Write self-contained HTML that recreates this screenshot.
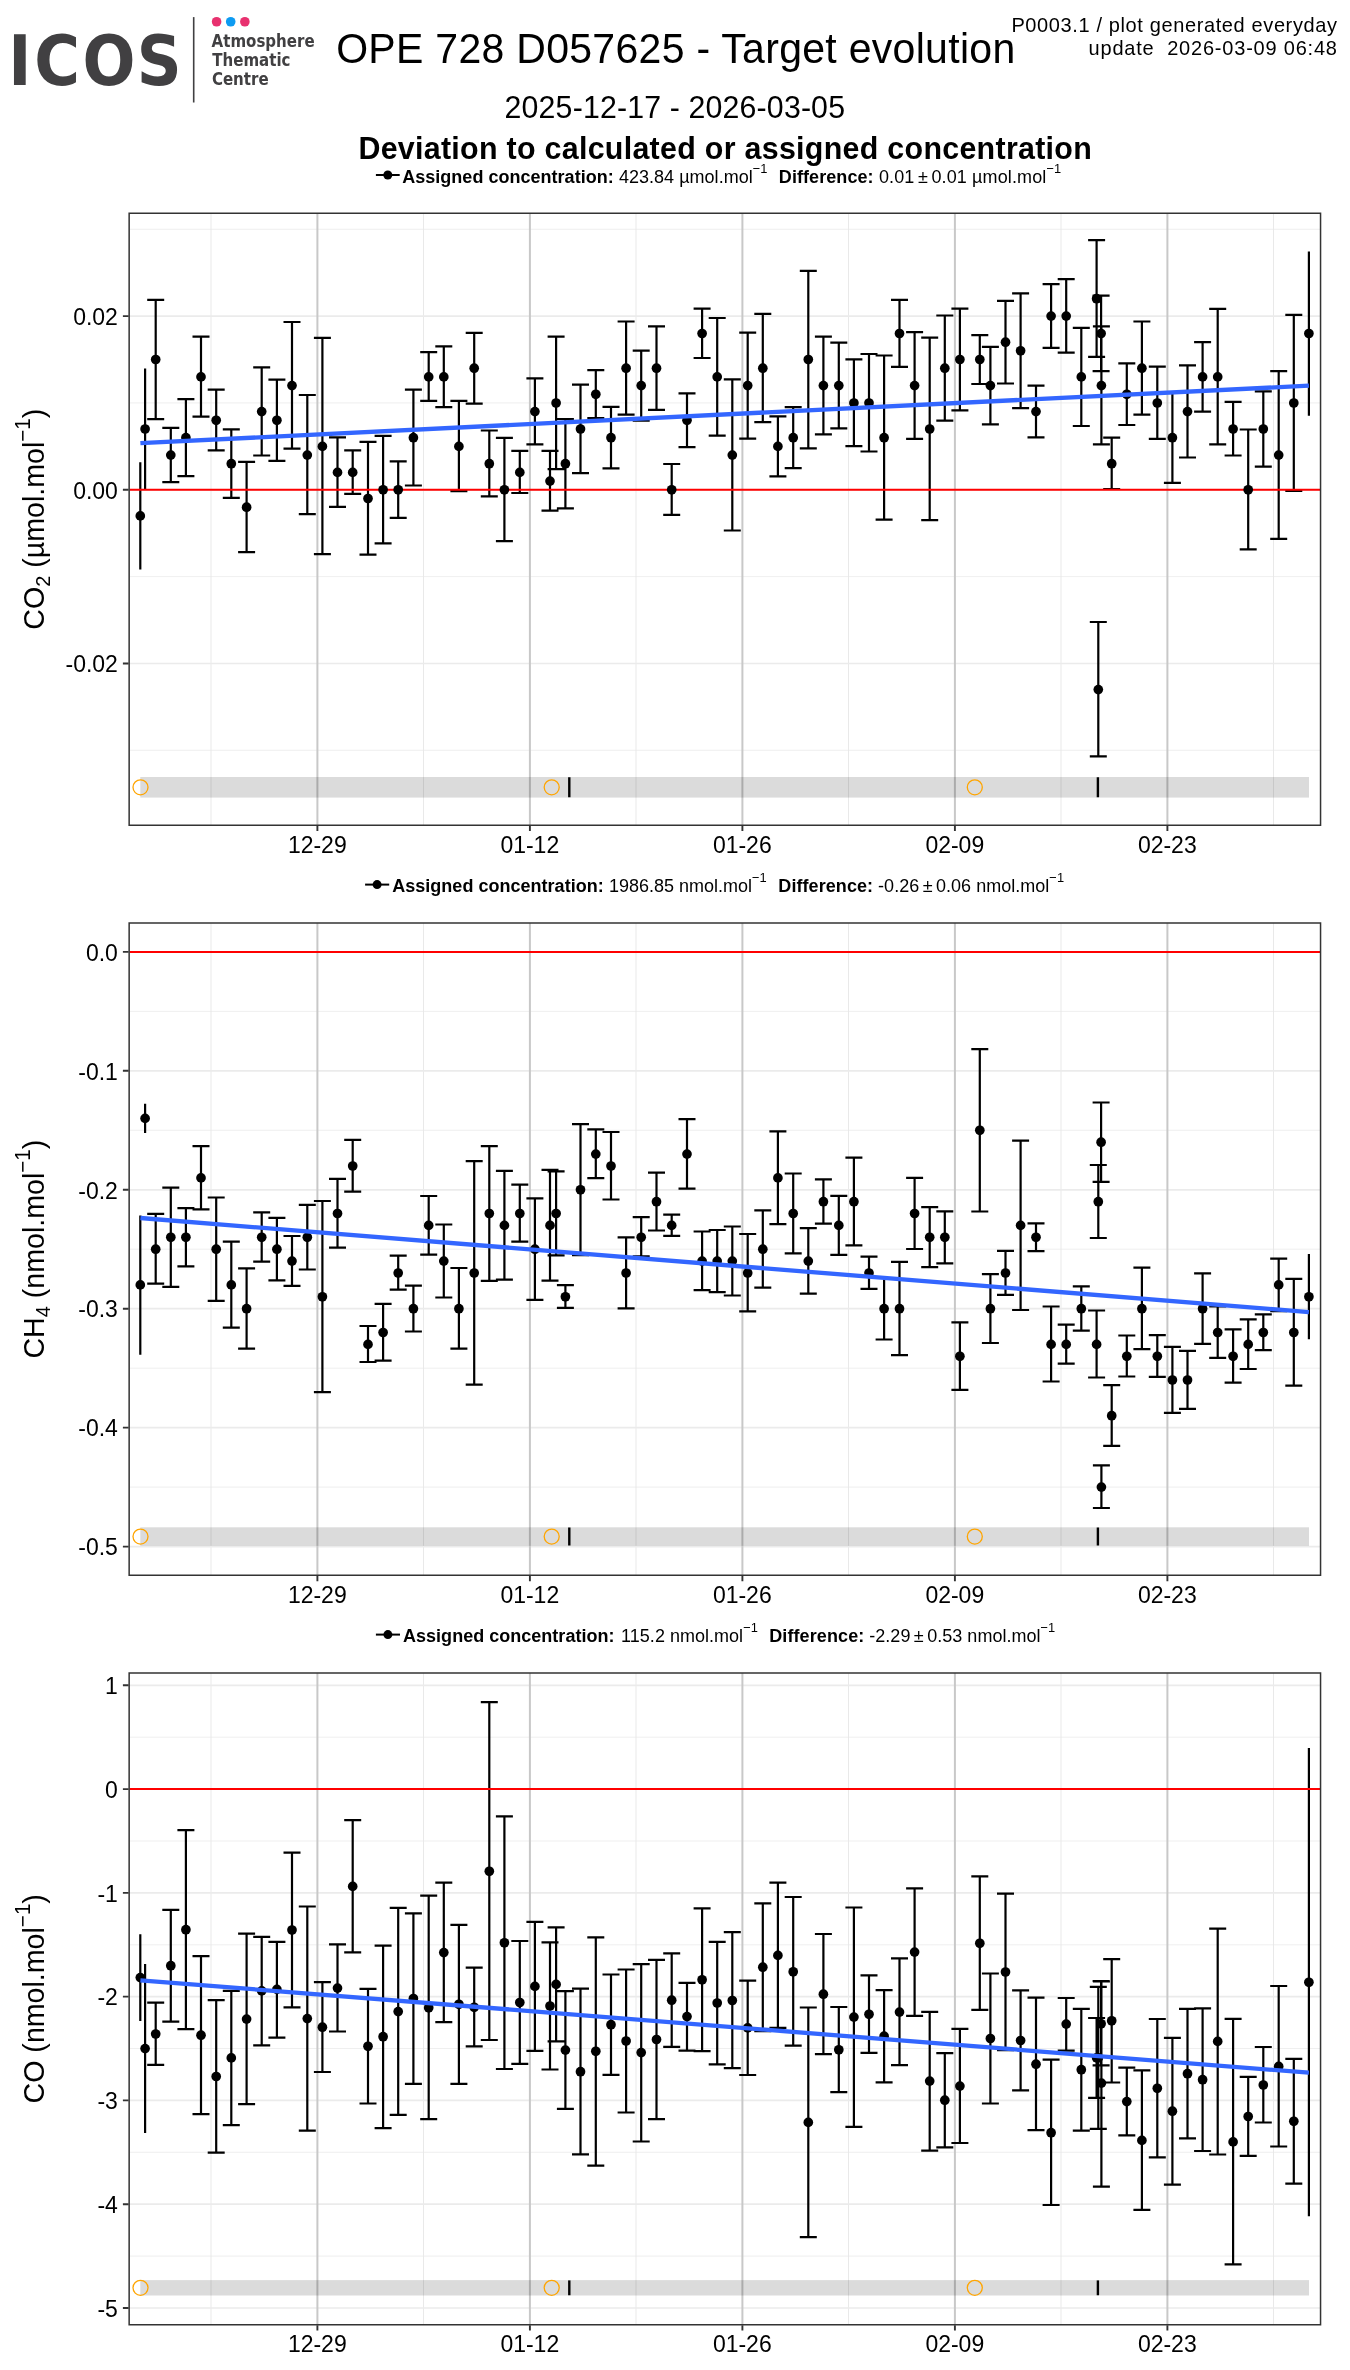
<!DOCTYPE html>
<html><head><meta charset="utf-8"><title>OPE 728 D057625 - Target evolution</title>
<style>html,body{margin:0;padding:0;background:#fff;overflow:hidden}svg{display:block;will-change:transform}</style></head>
<body>
<svg width="1350" height="2370" viewBox="0 0 1350 2370" font-family='"Liberation Sans", sans-serif'>
<rect width="1350" height="2370" fill="#fff"/>
<g id="logo" fill="#414042" font-weight="bold">
<text transform="translate(0 85.1) scale(0.89 1)" font-family='"DejaVu Sans", "Liberation Sans", sans-serif' font-size="70" x="9.3 38.6 92.6 153.8">ICOS</text>
<rect x="192.9" y="17.1" width="1.6" height="85.4"/>
<g font-family='"DejaVu Sans", "Liberation Sans", sans-serif' font-size="16.9">
<text transform="translate(211.6 47.1) scale(0.89 1)">Atmosphere</text>
<text transform="translate(212.3 65.9) scale(0.89 1)">Thematic</text>
<text transform="translate(211.9 84.9) scale(0.89 1)">Centre</text>
</g></g>
<circle cx="216.6" cy="21.75" r="4.8" fill="#e8316f"/><circle cx="230.7" cy="21.75" r="4.8" fill="#0d9bf2"/><circle cx="244.85" cy="21.75" r="4.8" fill="#e8316f"/>
<text transform="translate(336.20 62.90) scale(1 1.05)" font-size="41" textLength="679.0" lengthAdjust="spacing" >OPE 728 D057625 - Target evolution</text>
<text transform="translate(504.60 117.80) scale(1 1.05)" font-size="30.3" textLength="340.4" lengthAdjust="spacing" >2025-12-17 - 2026-03-05</text>
<text transform="translate(358.40 159.10) scale(1 1.05)" font-size="30.4" font-weight="bold" textLength="733.4" lengthAdjust="spacing" >Deviation to calculated or assigned concentration</text>
<text transform="translate(1011.40 31.60) scale(1 1.05)" font-size="20" textLength="325.6" lengthAdjust="spacing" >P0003.1 / plot generated everyday</text>
<text transform="translate(1088.60 55.20) scale(1 1.05)" font-size="20" textLength="248.4" lengthAdjust="spacing" xml:space="preserve">update  2026-03-09 06:48</text>
<line x1="375.9" y1="175.0" x2="399.7" y2="175.0" stroke="#000" stroke-width="2"/>
<circle cx="387.8" cy="175.0" r="4.5" fill="#000"/>
<text transform="translate(402.20 182.70) scale(1 1.05)" font-size="18" font-weight="bold" textLength="211.5" lengthAdjust="spacing" >Assigned concentration:</text>
<text transform="translate(618.90 182.70) scale(1 1.05)" font-size="18" textLength="148.6" lengthAdjust="spacing" >423.84 µmol.mol<tspan font-size="12.9" dy="-9.6">−1</tspan></text>
<text transform="translate(778.80 182.70) scale(1 1.05)" font-size="18" font-weight="bold" textLength="94.8" lengthAdjust="spacing" >Difference:</text>
<text transform="translate(878.90 182.70) scale(1 1.05)" font-size="18" textLength="182.4" lengthAdjust="spacing" >0.01<tspan dx="-1.6"> ±</tspan><tspan dx="-1.6"> 0.01</tspan> µmol.mol<tspan font-size="12.9" dy="-9.6">−1</tspan></text>
<line x1="365.1" y1="884.6" x2="389.2" y2="884.6" stroke="#000" stroke-width="2"/>
<circle cx="377.1" cy="884.6" r="4.5" fill="#000"/>
<text transform="translate(392.20 892.30) scale(1 1.05)" font-size="18" font-weight="bold" textLength="211.5" lengthAdjust="spacing" >Assigned concentration:</text>
<text transform="translate(608.90 892.30) scale(1 1.05)" font-size="18" textLength="157.8" lengthAdjust="spacing" >1986.85 nmol.mol<tspan font-size="12.9" dy="-9.6">−1</tspan></text>
<text transform="translate(778.30 892.30) scale(1 1.05)" font-size="18" font-weight="bold" textLength="94.8" lengthAdjust="spacing" >Difference:</text>
<text transform="translate(878.10 892.30) scale(1 1.05)" font-size="18" textLength="186.0" lengthAdjust="spacing" >-0.26<tspan dx="-1.6"> ±</tspan><tspan dx="-1.6"> 0.06</tspan> nmol.mol<tspan font-size="12.9" dy="-9.6">−1</tspan></text>
<line x1="375.9" y1="1634.6" x2="400.0" y2="1634.6" stroke="#000" stroke-width="2"/>
<circle cx="387.9" cy="1634.6" r="4.5" fill="#000"/>
<text transform="translate(403.00 1642.30) scale(1 1.05)" font-size="18" font-weight="bold" textLength="211.5" lengthAdjust="spacing" >Assigned concentration:</text>
<text transform="translate(621.10 1642.30) scale(1 1.05)" font-size="18" textLength="136.8" lengthAdjust="spacing" >115.2 nmol.mol<tspan font-size="12.9" dy="-9.6">−1</tspan></text>
<text transform="translate(769.20 1642.30) scale(1 1.05)" font-size="18" font-weight="bold" textLength="95.1" lengthAdjust="spacing" >Difference:</text>
<text transform="translate(869.30 1642.30) scale(1 1.05)" font-size="18" textLength="186.0" lengthAdjust="spacing" >-2.29<tspan dx="-1.6"> ±</tspan><tspan dx="-1.6"> 0.53</tspan> nmol.mol<tspan font-size="12.9" dy="-9.6">−1</tspan></text>
<g id="panel1">
<clipPath id="cp1"><rect x="129.5" y="213.3" width="1191.0" height="611.8499999999999"/></clipPath>
<g clip-path="url(#cp1)">
<line x1="129.5" x2="1320.5" y1="229.3" y2="229.3" stroke="#ebebeb" stroke-width="0.8"/>
<line x1="129.5" x2="1320.5" y1="402.9" y2="402.9" stroke="#ebebeb" stroke-width="0.8"/>
<line x1="129.5" x2="1320.5" y1="576.6" y2="576.6" stroke="#ebebeb" stroke-width="0.8"/>
<line x1="129.5" x2="1320.5" y1="750.3" y2="750.3" stroke="#ebebeb" stroke-width="0.8"/>
<line y1="213.3" y2="825.15" x1="211.0" x2="211.0" stroke="#e6e6e6" stroke-width="0.9"/>
<line y1="213.3" y2="825.15" x1="423.5" x2="423.5" stroke="#e6e6e6" stroke-width="0.9"/>
<line y1="213.3" y2="825.15" x1="636.0" x2="636.0" stroke="#e6e6e6" stroke-width="0.9"/>
<line y1="213.3" y2="825.15" x1="848.5" x2="848.5" stroke="#e6e6e6" stroke-width="0.9"/>
<line y1="213.3" y2="825.15" x1="1061.0" x2="1061.0" stroke="#e6e6e6" stroke-width="0.9"/>
<line y1="213.3" y2="825.15" x1="1273.5" x2="1273.5" stroke="#e6e6e6" stroke-width="0.9"/>
<line x1="129.5" x2="1320.5" y1="316.1" y2="316.1" stroke="#ebebeb" stroke-width="1.7"/>
<line x1="129.5" x2="1320.5" y1="489.8" y2="489.8" stroke="#ebebeb" stroke-width="1.7"/>
<line x1="129.5" x2="1320.5" y1="663.5" y2="663.5" stroke="#ebebeb" stroke-width="1.7"/>
<line y1="213.3" y2="825.15" x1="317.4" x2="317.4" stroke="#c8c8c8" stroke-width="2"/>
<line y1="213.3" y2="825.15" x1="529.9" x2="529.9" stroke="#c8c8c8" stroke-width="2"/>
<line y1="213.3" y2="825.15" x1="742.4" x2="742.4" stroke="#c8c8c8" stroke-width="2"/>
<line y1="213.3" y2="825.15" x1="954.9" x2="954.9" stroke="#c8c8c8" stroke-width="2"/>
<line y1="213.3" y2="825.15" x1="1167.4" x2="1167.4" stroke="#c8c8c8" stroke-width="2"/>
<rect x="140.3" y="777.0" width="1168.7" height="20.6" fill="#000" fill-opacity="0.14"/>
<line x1="569.3" x2="569.3" y1="777.3" y2="797.3" stroke="#000" stroke-width="2.4"/>
<line x1="1097.9" x2="1097.9" y1="777.3" y2="797.3" stroke="#000" stroke-width="2.4"/>
<circle cx="140.5" cy="787.3" r="7.5" fill="none" stroke="#ffa500" stroke-width="1.3"/>
<circle cx="551.7" cy="787.3" r="7.5" fill="none" stroke="#ffa500" stroke-width="1.3"/>
<circle cx="974.8" cy="787.3" r="7.5" fill="none" stroke="#ffa500" stroke-width="1.3"/>
<path d="M140.3 462.3V569.6M145.1 368.6V489.5M155.7 299.8V419.2M147.2 299.8h17M147.2 419.2h17M170.8 427.8V482.2M162.3 427.8h17M162.3 482.2h17M185.9 399.1V476.1M177.4 399.1h17M177.4 476.1h17M201.0 336.6V416.7M192.5 336.6h17M192.5 416.7h17M216.2 389.7V450.4M207.7 389.7h17M207.7 450.4h17M231.3 429.3V497.8M222.8 429.3h17M222.8 497.8h17M246.6 461.8V552.2M238.1 461.8h17M238.1 552.2h17M261.7 367.3V455.5M253.2 367.3h17M253.2 455.5h17M276.9 379.7V460.8M268.4 379.7h17M268.4 460.8h17M292.0 322.0V448.7M283.5 322.0h17M283.5 448.7h17M307.3 395.0V514.2M298.8 395.0h17M298.8 514.2h17M322.4 337.9V554.2M313.9 337.9h17M313.9 554.2h17M337.5 437.3V506.9M329.0 437.3h17M329.0 506.9h17M352.7 450.4V493.8M344.2 450.4h17M344.2 493.8h17M368.0 441.9V554.7M359.5 441.9h17M359.5 554.7h17M383.1 435.8V543.4M374.6 435.8h17M374.6 543.4h17M398.2 461.3V517.9M389.7 461.3h17M389.7 517.9h17M413.4 389.7V485.5M404.9 389.7h17M404.9 485.5h17M428.7 352.2V400.8M420.2 352.2h17M420.2 400.8h17M443.8 346.4V407.1M435.3 346.4h17M435.3 407.1h17M458.9 400.8V491.2M450.4 400.8h17M450.4 491.2h17M474.2 332.8V403.6M465.7 332.8h17M465.7 403.6h17M489.3 430.5V496.3M480.8 430.5h17M480.8 496.3h17M504.4 437.9V541.1M495.9 437.9h17M495.9 541.1h17M519.8 450.9V493.0M511.3 450.9h17M511.3 493.0h17M534.9 378.4V444.4M526.4 378.4h17M526.4 444.4h17M550.0 450.9V510.6M541.5 450.9h17M541.5 510.6h17M556.1 336.6V469.1M547.6 336.6h17M547.6 469.1h17M565.4 419.0V508.4M556.9 419.0h17M556.9 508.4h17M580.5 384.7V473.1M572.0 384.7h17M572.0 473.1h17M595.8 370.1V418.2M587.3 370.1h17M587.3 418.2h17M611.0 406.9V468.3M602.5 406.9h17M602.5 468.3h17M626.1 321.5V414.7M617.6 321.5h17M617.6 414.7h17M641.2 350.7V420.7M632.7 350.7h17M632.7 420.7h17M656.5 326.3V409.9M648.0 326.3h17M648.0 409.9h17M671.7 464.0V514.9M663.2 464.0h17M663.2 514.9h17M687.0 393.3V447.2M678.5 393.3h17M678.5 447.2h17M702.1 308.7V358.0M693.6 308.7h17M693.6 358.0h17M717.2 318.0V435.6M708.7 318.0h17M708.7 435.6h17M732.3 379.4V530.5M723.8 379.4h17M723.8 530.5h17M747.7 332.6V438.6M739.2 332.6h17M739.2 438.6h17M762.8 313.9V422.2M754.3 313.9h17M754.3 422.2h17M777.9 416.4V476.4M769.4 416.4h17M769.4 476.4h17M793.2 407.1V468.1M784.7 407.1h17M784.7 468.1h17M808.3 270.9V448.4M799.8 270.9h17M799.8 448.4h17M823.4 336.6V434.3M814.9 336.6h17M814.9 434.3h17M838.8 342.7V428.3M830.3 342.7h17M830.3 428.3h17M853.9 359.3V446.2M845.4 359.3h17M845.4 446.2h17M869.0 354.0V451.5M860.5 354.0h17M860.5 451.5h17M884.1 355.5V519.7M875.6 355.5h17M875.6 519.7h17M899.5 299.8V366.8M891.0 299.8h17M891.0 366.8h17M914.6 332.1V438.9M906.1 332.1h17M906.1 438.9h17M929.7 337.6V520.2M921.2 337.6h17M921.2 520.2h17M944.8 315.5V420.7M936.3 315.5h17M936.3 420.7h17M959.9 308.7V410.4M951.4 308.7h17M951.4 410.4h17M979.8 335.1V384.0M971.3 335.1h17M971.3 384.0h17M990.4 346.9V424.3M981.9 346.9h17M981.9 424.3h17M1005.5 300.8V383.5M997.0 300.8h17M997.0 383.5h17M1020.6 293.3V408.1M1012.1 293.3h17M1012.1 408.1h17M1036.0 385.7V437.3M1027.5 385.7h17M1027.5 437.3h17M1051.1 284.2V347.9M1042.6 284.2h17M1042.6 347.9h17M1066.2 279.2V352.7M1057.7 279.2h17M1057.7 352.7h17M1081.3 327.8V426.0M1072.8 327.8h17M1072.8 426.0h17M1096.6 240.1V356.8M1088.1 240.1h17M1088.1 356.8h17M1098.3 622.0V756.4M1089.8 622.0h17M1089.8 756.4h17M1101.1 295.6V371.1M1092.6 295.6h17M1092.6 371.1h17M1101.4 326.3V444.4M1092.9 326.3h17M1092.9 444.4h17M1111.7 437.6V489.0M1103.2 437.6h17M1103.2 489.0h17M1126.8 363.3V425.0M1118.3 363.3h17M1118.3 425.0h17M1141.9 321.5V414.7M1133.4 321.5h17M1133.4 414.7h17M1157.3 366.6V438.9M1148.8 366.6h17M1148.8 438.9h17M1172.4 392.8V482.9M1163.9 392.8h17M1163.9 482.9h17M1187.5 365.3V457.5M1179.0 365.3h17M1179.0 457.5h17M1202.6 342.1V411.7M1194.1 342.1h17M1194.1 411.7h17M1217.7 308.9V444.4M1209.2 308.9h17M1209.2 444.4h17M1233.1 401.8V455.5M1224.6 401.8h17M1224.6 455.5h17M1248.2 429.5V549.4M1239.7 429.5h17M1239.7 549.4h17M1263.3 391.3V466.6M1254.8 391.3h17M1254.8 466.6h17M1278.7 371.1V538.8M1270.2 371.1h17M1270.2 538.8h17M1293.8 314.9V491.0M1285.3 314.9h17M1285.3 491.0h17M1308.9 251.5V415.7" stroke="#000" stroke-width="2.2" fill="none"/>
<line x1="129.5" x2="1320.5" y1="489.85" y2="489.85" stroke="#ff0000" stroke-width="2"/>
<g fill="#000"><circle cx="140.3" cy="515.9" r="4.85"/><circle cx="145.1" cy="429.0" r="4.85"/><circle cx="155.7" cy="359.5" r="4.85"/><circle cx="170.8" cy="455.1" r="4.85"/><circle cx="185.9" cy="437.7" r="4.85"/><circle cx="201.0" cy="376.9" r="4.85"/><circle cx="216.2" cy="420.3" r="4.85"/><circle cx="231.3" cy="463.7" r="4.85"/><circle cx="246.6" cy="507.2" r="4.85"/><circle cx="261.7" cy="411.6" r="4.85"/><circle cx="276.9" cy="420.3" r="4.85"/><circle cx="292.0" cy="385.6" r="4.85"/><circle cx="307.3" cy="455.1" r="4.85"/><circle cx="322.4" cy="446.4" r="4.85"/><circle cx="337.5" cy="472.4" r="4.85"/><circle cx="352.7" cy="472.4" r="4.85"/><circle cx="368.0" cy="498.5" r="4.85"/><circle cx="383.1" cy="489.8" r="4.85"/><circle cx="398.2" cy="489.8" r="4.85"/><circle cx="413.4" cy="437.7" r="4.85"/><circle cx="428.7" cy="376.9" r="4.85"/><circle cx="443.8" cy="376.9" r="4.85"/><circle cx="458.9" cy="446.4" r="4.85"/><circle cx="474.2" cy="368.2" r="4.85"/><circle cx="489.3" cy="463.7" r="4.85"/><circle cx="504.4" cy="489.8" r="4.85"/><circle cx="519.8" cy="472.4" r="4.85"/><circle cx="534.9" cy="411.6" r="4.85"/><circle cx="550.0" cy="481.1" r="4.85"/><circle cx="556.1" cy="403.0" r="4.85"/><circle cx="565.4" cy="463.7" r="4.85"/><circle cx="580.5" cy="429.0" r="4.85"/><circle cx="595.8" cy="394.3" r="4.85"/><circle cx="611.0" cy="437.7" r="4.85"/><circle cx="626.1" cy="368.2" r="4.85"/><circle cx="641.2" cy="385.6" r="4.85"/><circle cx="656.5" cy="368.2" r="4.85"/><circle cx="671.7" cy="489.8" r="4.85"/><circle cx="687.0" cy="420.3" r="4.85"/><circle cx="702.1" cy="333.5" r="4.85"/><circle cx="717.2" cy="376.9" r="4.85"/><circle cx="732.3" cy="455.1" r="4.85"/><circle cx="747.7" cy="385.6" r="4.85"/><circle cx="762.8" cy="368.2" r="4.85"/><circle cx="777.9" cy="446.4" r="4.85"/><circle cx="793.2" cy="437.7" r="4.85"/><circle cx="808.3" cy="359.5" r="4.85"/><circle cx="823.4" cy="385.6" r="4.85"/><circle cx="838.8" cy="385.6" r="4.85"/><circle cx="853.9" cy="403.0" r="4.85"/><circle cx="869.0" cy="403.0" r="4.85"/><circle cx="884.1" cy="437.7" r="4.85"/><circle cx="899.5" cy="333.5" r="4.85"/><circle cx="914.6" cy="385.6" r="4.85"/><circle cx="929.7" cy="429.0" r="4.85"/><circle cx="944.8" cy="368.2" r="4.85"/><circle cx="959.9" cy="359.5" r="4.85"/><circle cx="979.8" cy="359.5" r="4.85"/><circle cx="990.4" cy="385.6" r="4.85"/><circle cx="1005.5" cy="342.2" r="4.85"/><circle cx="1020.6" cy="350.8" r="4.85"/><circle cx="1036.0" cy="411.6" r="4.85"/><circle cx="1051.1" cy="316.1" r="4.85"/><circle cx="1066.2" cy="316.1" r="4.85"/><circle cx="1081.3" cy="376.9" r="4.85"/><circle cx="1096.6" cy="298.7" r="4.85"/><circle cx="1098.3" cy="689.6" r="4.85"/><circle cx="1101.1" cy="333.5" r="4.85"/><circle cx="1101.4" cy="385.6" r="4.85"/><circle cx="1111.7" cy="463.7" r="4.85"/><circle cx="1126.8" cy="394.3" r="4.85"/><circle cx="1141.9" cy="368.2" r="4.85"/><circle cx="1157.3" cy="403.0" r="4.85"/><circle cx="1172.4" cy="437.7" r="4.85"/><circle cx="1187.5" cy="411.6" r="4.85"/><circle cx="1202.6" cy="376.9" r="4.85"/><circle cx="1217.7" cy="376.9" r="4.85"/><circle cx="1233.1" cy="429.0" r="4.85"/><circle cx="1248.2" cy="489.8" r="4.85"/><circle cx="1263.3" cy="429.0" r="4.85"/><circle cx="1278.7" cy="455.1" r="4.85"/><circle cx="1293.8" cy="403.0" r="4.85"/><circle cx="1308.9" cy="333.5" r="4.85"/></g>
<line x1="140.4" y1="443.2" x2="1308.9" y2="385.7" stroke="#3366ff" stroke-width="4.3"/>
</g>
<path d="M129.15 825.15V213.20000000000002H1320.55V825.15Z" fill="none" stroke="#333" stroke-width="1.5" stroke-linejoin="miter"/>
<path d="M122.9 316.1H128.6M122.9 489.8H128.6M122.9 663.5H128.6M317.4 825.8V831.0M529.9 825.8V831.0M742.4 825.8V831.0M954.9 825.8V831.0M1167.4 825.8V831.0" stroke="#333" stroke-width="1.9" fill="none"/>
<text transform="translate(117.90 324.85) scale(1 1.045)" font-size="23.0" text-anchor="end" >0.02</text>
<text transform="translate(117.90 498.55) scale(1 1.045)" font-size="23.0" text-anchor="end" >0.00</text>
<text transform="translate(117.90 672.20) scale(1 1.045)" font-size="23.0" text-anchor="end" >-0.02</text>
<text transform="translate(317.30 852.80) scale(1 1.045)" font-size="23.0" text-anchor="middle" >12-29</text>
<text transform="translate(529.80 852.80) scale(1 1.045)" font-size="23.0" text-anchor="middle" >01-12</text>
<text transform="translate(742.30 852.80) scale(1 1.045)" font-size="23.0" text-anchor="middle" >01-26</text>
<text transform="translate(954.80 852.80) scale(1 1.045)" font-size="23.0" text-anchor="middle" >02-09</text>
<text transform="translate(1167.30 852.80) scale(1 1.045)" font-size="23.0" text-anchor="middle" >02-23</text>
<text transform="translate(43.8 519.2) rotate(-90) scale(1 1.05)" text-anchor="middle" font-size="28.6">CO<tspan font-size="20" dy="5.5">2</tspan><tspan dy="-5.5"> </tspan>(µmol.mol<tspan font-size="20.6" dy="-13.5">−1</tspan><tspan dy="13.5">)</tspan></text>
</g>
<g id="panel2">
<clipPath id="cp2"><rect x="129.5" y="923.0" width="1191.0" height="652.25"/></clipPath>
<g clip-path="url(#cp2)">
<line x1="129.5" x2="1320.5" y1="1011.4" y2="1011.4" stroke="#ebebeb" stroke-width="0.8"/>
<line x1="129.5" x2="1320.5" y1="1130.3" y2="1130.3" stroke="#ebebeb" stroke-width="0.8"/>
<line x1="129.5" x2="1320.5" y1="1249.2" y2="1249.2" stroke="#ebebeb" stroke-width="0.8"/>
<line x1="129.5" x2="1320.5" y1="1368.2" y2="1368.2" stroke="#ebebeb" stroke-width="0.8"/>
<line x1="129.5" x2="1320.5" y1="1487.1" y2="1487.1" stroke="#ebebeb" stroke-width="0.8"/>
<line y1="923.0" y2="1575.25" x1="211.0" x2="211.0" stroke="#e6e6e6" stroke-width="0.9"/>
<line y1="923.0" y2="1575.25" x1="423.5" x2="423.5" stroke="#e6e6e6" stroke-width="0.9"/>
<line y1="923.0" y2="1575.25" x1="636.0" x2="636.0" stroke="#e6e6e6" stroke-width="0.9"/>
<line y1="923.0" y2="1575.25" x1="848.5" x2="848.5" stroke="#e6e6e6" stroke-width="0.9"/>
<line y1="923.0" y2="1575.25" x1="1061.0" x2="1061.0" stroke="#e6e6e6" stroke-width="0.9"/>
<line y1="923.0" y2="1575.25" x1="1273.5" x2="1273.5" stroke="#e6e6e6" stroke-width="0.9"/>
<line x1="129.5" x2="1320.5" y1="951.9" y2="951.9" stroke="#ebebeb" stroke-width="1.7"/>
<line x1="129.5" x2="1320.5" y1="1070.8" y2="1070.8" stroke="#ebebeb" stroke-width="1.7"/>
<line x1="129.5" x2="1320.5" y1="1189.8" y2="1189.8" stroke="#ebebeb" stroke-width="1.7"/>
<line x1="129.5" x2="1320.5" y1="1308.7" y2="1308.7" stroke="#ebebeb" stroke-width="1.7"/>
<line x1="129.5" x2="1320.5" y1="1427.6" y2="1427.6" stroke="#ebebeb" stroke-width="1.7"/>
<line x1="129.5" x2="1320.5" y1="1546.6" y2="1546.6" stroke="#ebebeb" stroke-width="1.7"/>
<line y1="923.0" y2="1575.25" x1="317.4" x2="317.4" stroke="#c8c8c8" stroke-width="2"/>
<line y1="923.0" y2="1575.25" x1="529.9" x2="529.9" stroke="#c8c8c8" stroke-width="2"/>
<line y1="923.0" y2="1575.25" x1="742.4" x2="742.4" stroke="#c8c8c8" stroke-width="2"/>
<line y1="923.0" y2="1575.25" x1="954.9" x2="954.9" stroke="#c8c8c8" stroke-width="2"/>
<line y1="923.0" y2="1575.25" x1="1167.4" x2="1167.4" stroke="#c8c8c8" stroke-width="2"/>
<rect x="140.3" y="1527.3" width="1168.7" height="18.6" fill="#000" fill-opacity="0.14"/>
<line x1="569.3" x2="569.3" y1="1527.6" y2="1545.6" stroke="#000" stroke-width="2.4"/>
<line x1="1097.9" x2="1097.9" y1="1527.6" y2="1545.6" stroke="#000" stroke-width="2.4"/>
<circle cx="140.5" cy="1536.6" r="7.5" fill="none" stroke="#ffa500" stroke-width="1.3"/>
<circle cx="551.7" cy="1536.6" r="7.5" fill="none" stroke="#ffa500" stroke-width="1.3"/>
<circle cx="974.8" cy="1536.6" r="7.5" fill="none" stroke="#ffa500" stroke-width="1.3"/>
<path d="M140.3 1215.4V1354.7M145.1 1103.8V1133.0M155.7 1213.9V1283.6M147.2 1213.9h17M147.2 1283.6h17M170.8 1187.7V1286.9M162.3 1187.7h17M162.3 1286.9h17M185.9 1208.1V1266.3M177.4 1208.1h17M177.4 1266.3h17M201.0 1146.1V1209.3M192.5 1146.1h17M192.5 1209.3h17M216.2 1197.5V1300.8M207.7 1197.5h17M207.7 1300.8h17M231.3 1241.6V1327.7M222.8 1241.6h17M222.8 1327.7h17M246.6 1268.3V1348.6M238.1 1268.3h17M238.1 1348.6h17M261.7 1212.4V1261.7M253.2 1212.4h17M253.2 1261.7h17M276.9 1217.9V1280.4M268.4 1217.9h17M268.4 1280.4h17M292.0 1236.0V1285.9M283.5 1236.0h17M283.5 1285.9h17M307.3 1204.8V1269.5M298.8 1204.8h17M298.8 1269.5h17M322.4 1201.0V1392.2M313.9 1201.0h17M313.9 1392.2h17M337.5 1178.9V1247.6M329.0 1178.9h17M329.0 1247.6h17M352.7 1139.8V1191.7M344.2 1139.8h17M344.2 1191.7h17M368.0 1326.0V1362.0M359.5 1326.0h17M359.5 1362.0h17M383.1 1303.8V1360.7M374.6 1303.8h17M374.6 1360.7h17M398.2 1255.7V1289.7M389.7 1255.7h17M389.7 1289.7h17M413.4 1285.7V1331.5M404.9 1285.7h17M404.9 1331.5h17M428.7 1196.0V1254.7M420.2 1196.0h17M420.2 1254.7h17M443.8 1224.5V1297.5M435.3 1224.5h17M435.3 1297.5h17M458.9 1268.0V1348.6M450.4 1268.0h17M450.4 1348.6h17M474.2 1161.2V1384.6M465.7 1161.2h17M465.7 1384.6h17M489.3 1146.1V1280.9M480.8 1146.1h17M480.8 1280.9h17M504.4 1170.8V1279.6M495.9 1170.8h17M495.9 1279.6h17M519.8 1184.7V1241.6M511.3 1184.7h17M511.3 1241.6h17M534.9 1198.3V1299.8M526.4 1198.3h17M526.4 1299.8h17M550.0 1169.8V1280.6M541.5 1169.8h17M541.5 1280.6h17M556.1 1171.3V1255.4M547.6 1171.3h17M547.6 1255.4h17M565.4 1285.2V1307.8M556.9 1285.2h17M556.9 1307.8h17M580.5 1124.2V1255.2M572.0 1124.2h17M572.0 1255.2h17M595.8 1129.3V1178.1M587.3 1129.3h17M587.3 1178.1h17M611.0 1132.0V1199.5M602.5 1132.0h17M602.5 1199.5h17M626.1 1237.3V1308.3M617.6 1237.3h17M617.6 1308.3h17M641.2 1217.2V1256.4M632.7 1217.2h17M632.7 1256.4h17M656.5 1172.6V1230.5M648.0 1172.6h17M648.0 1230.5h17M671.7 1214.6V1235.8M663.2 1214.6h17M663.2 1235.8h17M687.0 1119.2V1188.7M678.5 1119.2h17M678.5 1188.7h17M702.1 1231.5V1290.2M693.6 1231.5h17M693.6 1290.2h17M717.2 1230.0V1292.2M708.7 1230.0h17M708.7 1292.2h17M732.3 1226.5V1295.5M723.8 1226.5h17M723.8 1295.5h17M747.7 1234.0V1311.3M739.2 1234.0h17M739.2 1311.3h17M762.8 1210.4V1287.7M754.3 1210.4h17M754.3 1287.7h17M777.9 1131.3V1224.2M769.4 1131.3h17M769.4 1224.2h17M793.2 1173.5V1253.3M784.7 1173.5h17M784.7 1253.3h17M808.3 1228.1V1293.6M799.8 1228.1h17M799.8 1293.6h17M823.4 1179.3V1223.6M814.9 1179.3h17M814.9 1223.6h17M838.8 1195.9V1254.8M830.3 1195.9h17M830.3 1254.8h17M853.9 1157.6V1245.3M845.4 1157.6h17M845.4 1245.3h17M869.0 1256.6V1288.8M860.5 1256.6h17M860.5 1288.8h17M884.1 1278.0V1339.5M875.6 1278.0h17M875.6 1339.5h17M899.5 1261.9V1355.1M891.0 1261.9h17M891.0 1355.1h17M914.6 1177.8V1249.0M906.1 1177.8h17M906.1 1249.0h17M929.7 1207.2V1267.2M921.2 1207.2h17M921.2 1267.2h17M944.8 1211.3V1263.4M936.3 1211.3h17M936.3 1263.4h17M959.9 1322.3V1389.8M951.4 1322.3h17M951.4 1389.8h17M979.8 1049.1V1211.5M971.3 1049.1h17M971.3 1211.5h17M990.4 1274.2V1343.0M981.9 1274.2h17M981.9 1343.0h17M1005.5 1250.8V1294.9M997.0 1250.8h17M997.0 1294.9h17M1020.6 1140.7V1310.0M1012.1 1140.7h17M1012.1 1310.0h17M1036.0 1223.3V1251.1M1027.5 1223.3h17M1027.5 1251.1h17M1051.1 1306.5V1381.5M1042.6 1306.5h17M1042.6 1381.5h17M1066.2 1324.6V1363.6M1057.7 1324.6h17M1057.7 1363.6h17M1081.3 1286.3V1330.6M1072.8 1286.3h17M1072.8 1330.6h17M1096.6 1310.5V1377.5M1088.1 1310.5h17M1088.1 1377.5h17M1098.3 1165.0V1238.0M1089.8 1165.0h17M1089.8 1238.0h17M1101.1 1102.5V1181.9M1092.6 1102.5h17M1092.6 1181.9h17M1101.4 1465.4V1508.0M1092.9 1465.4h17M1092.9 1508.0h17M1111.7 1385.1V1445.8M1103.2 1385.1h17M1103.2 1445.8h17M1126.8 1335.5V1376.5M1118.3 1335.5h17M1118.3 1376.5h17M1141.9 1267.7V1349.1M1133.4 1267.7h17M1133.4 1349.1h17M1157.3 1335.2V1376.8M1148.8 1335.2h17M1148.8 1376.8h17M1172.4 1346.8V1412.8M1163.9 1346.8h17M1163.9 1412.8h17M1187.5 1350.8V1408.8M1179.0 1350.8h17M1179.0 1408.8h17M1202.6 1273.3V1343.8M1194.1 1273.3h17M1194.1 1343.8h17M1217.7 1306.5V1357.9M1209.2 1306.5h17M1209.2 1357.9h17M1233.1 1329.4V1382.6M1224.6 1329.4h17M1224.6 1382.6h17M1248.2 1319.4V1369.0M1239.7 1319.4h17M1239.7 1369.0h17M1263.3 1314.3V1350.1M1254.8 1314.3h17M1254.8 1350.1h17M1278.7 1258.7V1311.1M1270.2 1258.7h17M1270.2 1311.1h17M1293.8 1278.8V1385.6M1285.3 1278.8h17M1285.3 1385.6h17M1308.9 1254.1V1339.3" stroke="#000" stroke-width="2.2" fill="none"/>
<line x1="129.5" x2="1320.5" y1="951.9" y2="951.9" stroke="#ff0000" stroke-width="2"/>
<g fill="#000"><circle cx="140.3" cy="1284.9" r="4.85"/><circle cx="145.1" cy="1118.4" r="4.85"/><circle cx="155.7" cy="1249.2" r="4.85"/><circle cx="170.8" cy="1237.3" r="4.85"/><circle cx="185.9" cy="1237.3" r="4.85"/><circle cx="201.0" cy="1177.9" r="4.85"/><circle cx="216.2" cy="1249.2" r="4.85"/><circle cx="231.3" cy="1284.9" r="4.85"/><circle cx="246.6" cy="1308.7" r="4.85"/><circle cx="261.7" cy="1237.3" r="4.85"/><circle cx="276.9" cy="1249.2" r="4.85"/><circle cx="292.0" cy="1261.1" r="4.85"/><circle cx="307.3" cy="1237.3" r="4.85"/><circle cx="322.4" cy="1296.8" r="4.85"/><circle cx="337.5" cy="1213.5" r="4.85"/><circle cx="352.7" cy="1166.0" r="4.85"/><circle cx="368.0" cy="1344.4" r="4.85"/><circle cx="383.1" cy="1332.5" r="4.85"/><circle cx="398.2" cy="1273.0" r="4.85"/><circle cx="413.4" cy="1308.7" r="4.85"/><circle cx="428.7" cy="1225.4" r="4.85"/><circle cx="443.8" cy="1261.1" r="4.85"/><circle cx="458.9" cy="1308.7" r="4.85"/><circle cx="474.2" cy="1273.0" r="4.85"/><circle cx="489.3" cy="1213.5" r="4.85"/><circle cx="504.4" cy="1225.4" r="4.85"/><circle cx="519.8" cy="1213.5" r="4.85"/><circle cx="534.9" cy="1249.2" r="4.85"/><circle cx="550.0" cy="1225.4" r="4.85"/><circle cx="556.1" cy="1213.5" r="4.85"/><circle cx="565.4" cy="1296.8" r="4.85"/><circle cx="580.5" cy="1189.8" r="4.85"/><circle cx="595.8" cy="1154.1" r="4.85"/><circle cx="611.0" cy="1166.0" r="4.85"/><circle cx="626.1" cy="1273.0" r="4.85"/><circle cx="641.2" cy="1237.3" r="4.85"/><circle cx="656.5" cy="1201.7" r="4.85"/><circle cx="671.7" cy="1225.4" r="4.85"/><circle cx="687.0" cy="1154.1" r="4.85"/><circle cx="702.1" cy="1261.1" r="4.85"/><circle cx="717.2" cy="1261.1" r="4.85"/><circle cx="732.3" cy="1261.1" r="4.85"/><circle cx="747.7" cy="1273.0" r="4.85"/><circle cx="762.8" cy="1249.2" r="4.85"/><circle cx="777.9" cy="1177.9" r="4.85"/><circle cx="793.2" cy="1213.5" r="4.85"/><circle cx="808.3" cy="1261.1" r="4.85"/><circle cx="823.4" cy="1201.7" r="4.85"/><circle cx="838.8" cy="1225.4" r="4.85"/><circle cx="853.9" cy="1201.7" r="4.85"/><circle cx="869.0" cy="1273.0" r="4.85"/><circle cx="884.1" cy="1308.7" r="4.85"/><circle cx="899.5" cy="1308.7" r="4.85"/><circle cx="914.6" cy="1213.5" r="4.85"/><circle cx="929.7" cy="1237.3" r="4.85"/><circle cx="944.8" cy="1237.3" r="4.85"/><circle cx="959.9" cy="1356.3" r="4.85"/><circle cx="979.8" cy="1130.3" r="4.85"/><circle cx="990.4" cy="1308.7" r="4.85"/><circle cx="1005.5" cy="1273.0" r="4.85"/><circle cx="1020.6" cy="1225.4" r="4.85"/><circle cx="1036.0" cy="1237.3" r="4.85"/><circle cx="1051.1" cy="1344.4" r="4.85"/><circle cx="1066.2" cy="1344.4" r="4.85"/><circle cx="1081.3" cy="1308.7" r="4.85"/><circle cx="1096.6" cy="1344.4" r="4.85"/><circle cx="1098.3" cy="1201.7" r="4.85"/><circle cx="1101.1" cy="1142.2" r="4.85"/><circle cx="1101.4" cy="1487.1" r="4.85"/><circle cx="1111.7" cy="1415.7" r="4.85"/><circle cx="1126.8" cy="1356.3" r="4.85"/><circle cx="1141.9" cy="1308.7" r="4.85"/><circle cx="1157.3" cy="1356.3" r="4.85"/><circle cx="1172.4" cy="1380.0" r="4.85"/><circle cx="1187.5" cy="1380.0" r="4.85"/><circle cx="1202.6" cy="1308.7" r="4.85"/><circle cx="1217.7" cy="1332.5" r="4.85"/><circle cx="1233.1" cy="1356.3" r="4.85"/><circle cx="1248.2" cy="1344.4" r="4.85"/><circle cx="1263.3" cy="1332.5" r="4.85"/><circle cx="1278.7" cy="1284.9" r="4.85"/><circle cx="1293.8" cy="1332.5" r="4.85"/><circle cx="1308.9" cy="1296.8" r="4.85"/></g>
<line x1="140.4" y1="1218.0" x2="1308.9" y2="1312.1" stroke="#3366ff" stroke-width="4.3"/>
</g>
<path d="M129.15 1575.25V922.9H1320.55V1575.25Z" fill="none" stroke="#333" stroke-width="1.5" stroke-linejoin="miter"/>
<path d="M122.9 951.9H128.6M122.9 1070.8H128.6M122.9 1189.8H128.6M122.9 1308.7H128.6M122.9 1427.6H128.6M122.9 1546.6H128.6M317.4 1575.8V1581.2M529.9 1575.8V1581.2M742.4 1575.8V1581.2M954.9 1575.8V1581.2M1167.4 1575.8V1581.2" stroke="#333" stroke-width="1.9" fill="none"/>
<text transform="translate(117.90 960.65) scale(1 1.045)" font-size="23.0" text-anchor="end" >0.0</text>
<text transform="translate(117.90 1079.58) scale(1 1.045)" font-size="23.0" text-anchor="end" >-0.1</text>
<text transform="translate(117.90 1198.51) scale(1 1.045)" font-size="23.0" text-anchor="end" >-0.2</text>
<text transform="translate(117.90 1317.44) scale(1 1.045)" font-size="23.0" text-anchor="end" >-0.3</text>
<text transform="translate(117.90 1436.37) scale(1 1.045)" font-size="23.0" text-anchor="end" >-0.4</text>
<text transform="translate(117.90 1555.30) scale(1 1.045)" font-size="23.0" text-anchor="end" >-0.5</text>
<text transform="translate(317.30 1602.90) scale(1 1.045)" font-size="23.0" text-anchor="middle" >12-29</text>
<text transform="translate(529.80 1602.90) scale(1 1.045)" font-size="23.0" text-anchor="middle" >01-12</text>
<text transform="translate(742.30 1602.90) scale(1 1.045)" font-size="23.0" text-anchor="middle" >01-26</text>
<text transform="translate(954.80 1602.90) scale(1 1.045)" font-size="23.0" text-anchor="middle" >02-09</text>
<text transform="translate(1167.30 1602.90) scale(1 1.045)" font-size="23.0" text-anchor="middle" >02-23</text>
<text transform="translate(43.8 1249.1) rotate(-90) scale(1 1.05)" text-anchor="middle" font-size="28.6">CH<tspan font-size="20" dy="5.5">4</tspan><tspan dy="-5.5"> </tspan>(nmol.mol<tspan font-size="20.6" dy="-13.5">−1</tspan><tspan dy="13.5">)</tspan></text>
</g>
<g id="panel3">
<clipPath id="cp3"><rect x="129.5" y="1673.0" width="1191.0" height="651.6500000000001"/></clipPath>
<g clip-path="url(#cp3)">
<line x1="129.5" x2="1320.5" y1="1737.2" y2="1737.2" stroke="#ebebeb" stroke-width="0.8"/>
<line x1="129.5" x2="1320.5" y1="1841.0" y2="1841.0" stroke="#ebebeb" stroke-width="0.8"/>
<line x1="129.5" x2="1320.5" y1="1944.8" y2="1944.8" stroke="#ebebeb" stroke-width="0.8"/>
<line x1="129.5" x2="1320.5" y1="2048.5" y2="2048.5" stroke="#ebebeb" stroke-width="0.8"/>
<line x1="129.5" x2="1320.5" y1="2152.3" y2="2152.3" stroke="#ebebeb" stroke-width="0.8"/>
<line x1="129.5" x2="1320.5" y1="2256.1" y2="2256.1" stroke="#ebebeb" stroke-width="0.8"/>
<line y1="1673.0" y2="2324.65" x1="211.0" x2="211.0" stroke="#e6e6e6" stroke-width="0.9"/>
<line y1="1673.0" y2="2324.65" x1="423.5" x2="423.5" stroke="#e6e6e6" stroke-width="0.9"/>
<line y1="1673.0" y2="2324.65" x1="636.0" x2="636.0" stroke="#e6e6e6" stroke-width="0.9"/>
<line y1="1673.0" y2="2324.65" x1="848.5" x2="848.5" stroke="#e6e6e6" stroke-width="0.9"/>
<line y1="1673.0" y2="2324.65" x1="1061.0" x2="1061.0" stroke="#e6e6e6" stroke-width="0.9"/>
<line y1="1673.0" y2="2324.65" x1="1273.5" x2="1273.5" stroke="#e6e6e6" stroke-width="0.9"/>
<line x1="129.5" x2="1320.5" y1="1685.3" y2="1685.3" stroke="#ebebeb" stroke-width="1.7"/>
<line x1="129.5" x2="1320.5" y1="1789.1" y2="1789.1" stroke="#ebebeb" stroke-width="1.7"/>
<line x1="129.5" x2="1320.5" y1="1892.9" y2="1892.9" stroke="#ebebeb" stroke-width="1.7"/>
<line x1="129.5" x2="1320.5" y1="1996.6" y2="1996.6" stroke="#ebebeb" stroke-width="1.7"/>
<line x1="129.5" x2="1320.5" y1="2100.4" y2="2100.4" stroke="#ebebeb" stroke-width="1.7"/>
<line x1="129.5" x2="1320.5" y1="2204.2" y2="2204.2" stroke="#ebebeb" stroke-width="1.7"/>
<line x1="129.5" x2="1320.5" y1="2308.0" y2="2308.0" stroke="#ebebeb" stroke-width="1.7"/>
<line y1="1673.0" y2="2324.65" x1="317.4" x2="317.4" stroke="#c8c8c8" stroke-width="2"/>
<line y1="1673.0" y2="2324.65" x1="529.9" x2="529.9" stroke="#c8c8c8" stroke-width="2"/>
<line y1="1673.0" y2="2324.65" x1="742.4" x2="742.4" stroke="#c8c8c8" stroke-width="2"/>
<line y1="1673.0" y2="2324.65" x1="954.9" x2="954.9" stroke="#c8c8c8" stroke-width="2"/>
<line y1="1673.0" y2="2324.65" x1="1167.4" x2="1167.4" stroke="#c8c8c8" stroke-width="2"/>
<rect x="140.3" y="2280.1" width="1168.7" height="15.4" fill="#000" fill-opacity="0.14"/>
<line x1="569.3" x2="569.3" y1="2280.4" y2="2295.2" stroke="#000" stroke-width="2.4"/>
<line x1="1097.9" x2="1097.9" y1="2280.4" y2="2295.2" stroke="#000" stroke-width="2.4"/>
<circle cx="140.5" cy="2287.8" r="7.5" fill="none" stroke="#ffa500" stroke-width="1.3"/>
<circle cx="551.7" cy="2287.8" r="7.5" fill="none" stroke="#ffa500" stroke-width="1.3"/>
<circle cx="974.8" cy="2287.8" r="7.5" fill="none" stroke="#ffa500" stroke-width="1.3"/>
<path d="M140.3 1934.2V2021.1M145.1 1964.0V2132.9M155.7 2002.7V2064.9M147.2 2002.7h17M147.2 2064.9h17M170.8 1909.8V2021.6M162.3 1909.8h17M162.3 2021.6h17M185.9 1830.2V2029.2M177.4 1830.2h17M177.4 2029.2h17M201.0 1956.1V2114.1M192.5 1956.1h17M192.5 2114.1h17M216.2 2000.2V2152.6M207.7 2000.2h17M207.7 2152.6h17M231.3 1990.9V2125.1M222.8 1990.9h17M222.8 2125.1h17M246.6 1933.7V2104.2M238.1 1933.7h17M238.1 2104.2h17M261.7 1936.8V2045.3M253.2 1936.8h17M253.2 2045.3h17M276.9 1941.8V2037.7M268.4 1941.8h17M268.4 2037.7h17M292.0 1852.6V2007.3M283.5 1852.6h17M283.5 2007.3h17M307.3 1906.5V2130.7M298.8 1906.5h17M298.8 2130.7h17M322.4 1982.1V2072.0M313.9 1982.1h17M313.9 2072.0h17M337.5 1944.3V2031.5M329.0 1944.3h17M329.0 2031.5h17M352.7 1820.1V1952.4M344.2 1820.1h17M344.2 1952.4h17M368.0 1988.9V2103.5M359.5 1988.9h17M359.5 2103.5h17M383.1 1945.6V2128.2M374.6 1945.6h17M374.6 2128.2h17M398.2 1907.8V2114.8M389.7 1907.8h17M389.7 2114.8h17M413.4 1913.3V2083.8M404.9 1913.3h17M404.9 2083.8h17M428.7 1895.7V2119.1M420.2 1895.7h17M420.2 2119.1h17M443.8 1882.6V2022.1M435.3 1882.6h17M435.3 2022.1h17M458.9 1924.9V2083.8M450.4 1924.9h17M450.4 2083.8h17M474.2 1967.7V2046.3M465.7 1967.7h17M465.7 2046.3h17M489.3 1702.1V2040.0M480.8 1702.1h17M480.8 2040.0h17M504.4 1816.4V2069.0M495.9 1816.4h17M495.9 2069.0h17M519.8 1941.0V2063.9M511.3 1941.0h17M511.3 2063.9h17M534.9 1921.9V2050.8M526.4 1921.9h17M526.4 2050.8h17M550.0 1942.3V2069.5M541.5 1942.3h17M541.5 2069.5h17M556.1 1927.4V2041.3M547.6 1927.4h17M547.6 2041.3h17M565.4 1991.2V2108.8M556.9 1991.2h17M556.9 2108.8h17M580.5 1988.6V2154.4M572.0 1988.6h17M572.0 2154.4h17M595.8 1937.3V2165.7M587.3 1937.3h17M587.3 2165.7h17M611.0 1974.5V2074.8M602.5 1974.5h17M602.5 2074.8h17M626.1 1969.5V2112.5M617.6 1969.5h17M617.6 2112.5h17M641.2 1964.2V2141.5M632.7 1964.2h17M632.7 2141.5h17M656.5 1959.9V2119.1M648.0 1959.9h17M648.0 2119.1h17M671.7 1953.4V2046.8M663.2 1953.4h17M663.2 2046.8h17M687.0 1982.8V2050.6M678.5 1982.8h17M678.5 2050.6h17M702.1 1908.3V2051.1M693.6 1908.3h17M693.6 2051.1h17M717.2 1941.8V2064.4M708.7 1941.8h17M708.7 2064.4h17M732.3 1932.2V2068.2M723.8 1932.2h17M723.8 2068.2h17M747.7 1980.6V2075.0M739.2 1980.6h17M739.2 2075.0h17M762.8 1903.3V2031.2M754.3 1903.3h17M754.3 2031.2h17M777.9 1882.6V2027.9M769.4 1882.6h17M769.4 2027.9h17M793.2 1897.0V2045.6M784.7 1897.0h17M784.7 2045.6h17M808.3 2007.5V2237.2M799.8 2007.5h17M799.8 2237.2h17M823.4 1934.0V2054.1M814.9 1934.0h17M814.9 2054.1h17M838.8 2007.0V2092.1M830.3 2007.0h17M830.3 2092.1h17M853.9 1907.5V2126.9M845.4 1907.5h17M845.4 2126.9h17M869.0 1975.3V2052.9M860.5 1975.3h17M860.5 2052.9h17M884.1 1990.1V2082.3M875.6 1990.1h17M875.6 2082.3h17M899.5 1958.4V2065.2M891.0 1958.4h17M891.0 2065.2h17M914.6 1888.4V2015.8M906.1 1888.4h17M906.1 2015.8h17M929.7 2011.8V2150.6M921.2 2011.8h17M921.2 2150.6h17M944.8 2053.1V2147.3M936.3 2053.1h17M936.3 2147.3h17M959.9 2028.9V2143.0M951.4 2028.9h17M951.4 2143.0h17M979.8 1876.3V2009.8M971.3 1876.3h17M971.3 2009.8h17M990.4 1973.5V2103.5M981.9 1973.5h17M981.9 2103.5h17M1005.5 1893.7V2050.1M997.0 1893.7h17M997.0 2050.1h17M1020.6 1990.4V2090.4M1012.1 1990.4h17M1012.1 2090.4h17M1036.0 1997.7V2130.2M1027.5 1997.7h17M1027.5 2130.2h17M1051.1 2059.7V2205.0M1042.6 2059.7h17M1042.6 2205.0h17M1066.2 1998.0V2050.6M1057.7 1998.0h17M1057.7 2050.6h17M1081.3 2008.8V2130.7M1072.8 2008.8h17M1072.8 2130.7h17M1096.6 2018.0V2097.8M1088.1 2018.0h17M1088.1 2097.8h17M1098.3 1986.9V2128.9M1089.8 1986.9h17M1089.8 2128.9h17M1101.1 1981.0V2065.4M1092.6 1981.0h17M1092.6 2065.4h17M1101.4 1981.5V2186.7M1092.9 1981.5h17M1092.9 2186.7h17M1111.7 1959.1V2082.5M1103.2 1959.1h17M1103.2 2082.5h17M1126.8 2067.6V2135.4M1118.3 2067.6h17M1118.3 2135.4h17M1141.9 2070.4V2209.9M1133.4 2070.4h17M1133.4 2209.9h17M1157.3 2019.0V2157.3M1148.8 2019.0h17M1148.8 2157.3h17M1172.4 2037.9V2184.7M1163.9 2037.9h17M1163.9 2184.7h17M1187.5 2008.9V2138.4M1179.0 2008.9h17M1179.0 2138.4h17M1202.6 2008.4V2151.0M1194.1 2008.4h17M1194.1 2151.0h17M1217.7 1928.6V2154.5M1209.2 1928.6h17M1209.2 2154.5h17M1233.1 2018.8V2264.3M1224.6 2018.8h17M1224.6 2264.3h17M1248.2 2076.9V2155.8M1239.7 2076.9h17M1239.7 2155.8h17M1263.3 2047.0V2122.5M1254.8 2047.0h17M1254.8 2122.5h17M1278.7 1986.0V2146.5M1270.2 1986.0h17M1270.2 2146.5h17M1293.8 2058.8V2183.7M1285.3 2058.8h17M1285.3 2183.7h17M1308.9 1748.1V2216.2" stroke="#000" stroke-width="2.2" fill="none"/>
<line x1="129.5" x2="1320.5" y1="1789.1" y2="1789.1" stroke="#ff0000" stroke-width="2"/>
<g fill="#000"><circle cx="140.3" cy="1977.6" r="4.85"/><circle cx="145.1" cy="2048.6" r="4.85"/><circle cx="155.7" cy="2034.0" r="4.85"/><circle cx="170.8" cy="1965.7" r="4.85"/><circle cx="185.9" cy="1929.7" r="4.85"/><circle cx="201.0" cy="2035.2" r="4.85"/><circle cx="216.2" cy="2076.5" r="4.85"/><circle cx="231.3" cy="2057.9" r="4.85"/><circle cx="246.6" cy="2019.1" r="4.85"/><circle cx="261.7" cy="1990.9" r="4.85"/><circle cx="276.9" cy="1989.4" r="4.85"/><circle cx="292.0" cy="1930.0" r="4.85"/><circle cx="307.3" cy="2018.6" r="4.85"/><circle cx="322.4" cy="2027.2" r="4.85"/><circle cx="337.5" cy="1988.1" r="4.85"/><circle cx="352.7" cy="1886.4" r="4.85"/><circle cx="368.0" cy="2046.3" r="4.85"/><circle cx="383.1" cy="2036.7" r="4.85"/><circle cx="398.2" cy="2011.6" r="4.85"/><circle cx="413.4" cy="1998.5" r="4.85"/><circle cx="428.7" cy="2007.8" r="4.85"/><circle cx="443.8" cy="1952.6" r="4.85"/><circle cx="458.9" cy="2004.3" r="4.85"/><circle cx="474.2" cy="2007.3" r="4.85"/><circle cx="489.3" cy="1871.3" r="4.85"/><circle cx="504.4" cy="1942.8" r="4.85"/><circle cx="519.8" cy="2002.5" r="4.85"/><circle cx="534.9" cy="1986.4" r="4.85"/><circle cx="550.0" cy="2006.0" r="4.85"/><circle cx="556.1" cy="1984.4" r="4.85"/><circle cx="565.4" cy="2050.1" r="4.85"/><circle cx="580.5" cy="2071.7" r="4.85"/><circle cx="595.8" cy="2051.3" r="4.85"/><circle cx="611.0" cy="2024.7" r="4.85"/><circle cx="626.1" cy="2041.0" r="4.85"/><circle cx="641.2" cy="2052.6" r="4.85"/><circle cx="656.5" cy="2039.5" r="4.85"/><circle cx="671.7" cy="2000.2" r="4.85"/><circle cx="687.0" cy="2016.6" r="4.85"/><circle cx="702.1" cy="1979.8" r="4.85"/><circle cx="717.2" cy="2003.0" r="4.85"/><circle cx="732.3" cy="2000.5" r="4.85"/><circle cx="747.7" cy="2027.9" r="4.85"/><circle cx="762.8" cy="1967.2" r="4.85"/><circle cx="777.9" cy="1955.4" r="4.85"/><circle cx="793.2" cy="1971.8" r="4.85"/><circle cx="808.3" cy="2122.4" r="4.85"/><circle cx="823.4" cy="1994.2" r="4.85"/><circle cx="838.8" cy="2049.8" r="4.85"/><circle cx="853.9" cy="2017.1" r="4.85"/><circle cx="869.0" cy="2014.3" r="4.85"/><circle cx="884.1" cy="2036.2" r="4.85"/><circle cx="899.5" cy="2012.1" r="4.85"/><circle cx="914.6" cy="1952.1" r="4.85"/><circle cx="929.7" cy="2081.1" r="4.85"/><circle cx="944.8" cy="2100.2" r="4.85"/><circle cx="959.9" cy="2086.1" r="4.85"/><circle cx="979.8" cy="1943.3" r="4.85"/><circle cx="990.4" cy="2038.5" r="4.85"/><circle cx="1005.5" cy="1972.0" r="4.85"/><circle cx="1020.6" cy="2040.5" r="4.85"/><circle cx="1036.0" cy="2064.2" r="4.85"/><circle cx="1051.1" cy="2132.7" r="4.85"/><circle cx="1066.2" cy="2024.1" r="4.85"/><circle cx="1081.3" cy="2069.7" r="4.85"/><circle cx="1096.6" cy="2057.8" r="4.85"/><circle cx="1098.3" cy="2057.9" r="4.85"/><circle cx="1101.1" cy="2023.8" r="4.85"/><circle cx="1101.4" cy="2083.1" r="4.85"/><circle cx="1111.7" cy="2020.8" r="4.85"/><circle cx="1126.8" cy="2101.6" r="4.85"/><circle cx="1141.9" cy="2140.4" r="4.85"/><circle cx="1157.3" cy="2088.3" r="4.85"/><circle cx="1172.4" cy="2111.2" r="4.85"/><circle cx="1187.5" cy="2073.7" r="4.85"/><circle cx="1202.6" cy="2079.7" r="4.85"/><circle cx="1217.7" cy="2041.4" r="4.85"/><circle cx="1233.1" cy="2141.9" r="4.85"/><circle cx="1248.2" cy="2116.5" r="4.85"/><circle cx="1263.3" cy="2085.0" r="4.85"/><circle cx="1278.7" cy="2066.4" r="4.85"/><circle cx="1293.8" cy="2121.3" r="4.85"/><circle cx="1308.9" cy="1982.3" r="4.85"/></g>
<line x1="140.4" y1="1980.3" x2="1308.9" y2="2072.7" stroke="#3366ff" stroke-width="4.3"/>
</g>
<path d="M129.15 2324.65V1672.9H1320.55V2324.65Z" fill="none" stroke="#333" stroke-width="1.5" stroke-linejoin="miter"/>
<path d="M122.9 1685.3H128.6M122.9 1789.1H128.6M122.9 1892.9H128.6M122.9 1996.6H128.6M122.9 2100.4H128.6M122.9 2204.2H128.6M122.9 2308.0H128.6M317.4 2325.2V2330.6M529.9 2325.2V2330.6M742.4 2325.2V2330.6M954.9 2325.2V2330.6M1167.4 2325.2V2330.6" stroke="#333" stroke-width="1.9" fill="none"/>
<text transform="translate(117.90 1694.05) scale(1 1.045)" font-size="23.0" text-anchor="end" >1</text>
<text transform="translate(117.90 1797.83) scale(1 1.045)" font-size="23.0" text-anchor="end" >0</text>
<text transform="translate(117.90 1901.61) scale(1 1.045)" font-size="23.0" text-anchor="end" >-1</text>
<text transform="translate(117.90 2005.39) scale(1 1.045)" font-size="23.0" text-anchor="end" >-2</text>
<text transform="translate(117.90 2109.17) scale(1 1.045)" font-size="23.0" text-anchor="end" >-3</text>
<text transform="translate(117.90 2212.95) scale(1 1.045)" font-size="23.0" text-anchor="end" >-4</text>
<text transform="translate(117.90 2316.73) scale(1 1.045)" font-size="23.0" text-anchor="end" >-5</text>
<text transform="translate(317.30 2352.30) scale(1 1.045)" font-size="23.0" text-anchor="middle" >12-29</text>
<text transform="translate(529.80 2352.30) scale(1 1.045)" font-size="23.0" text-anchor="middle" >01-12</text>
<text transform="translate(742.30 2352.30) scale(1 1.045)" font-size="23.0" text-anchor="middle" >01-26</text>
<text transform="translate(954.80 2352.30) scale(1 1.045)" font-size="23.0" text-anchor="middle" >02-09</text>
<text transform="translate(1167.30 2352.30) scale(1 1.045)" font-size="23.0" text-anchor="middle" >02-23</text>
<text transform="translate(43.8 1998.8) rotate(-90) scale(1 1.05)" text-anchor="middle" font-size="28.6">CO (nmol.mol<tspan font-size="20.6" dy="-13.5">−1</tspan><tspan dy="13.5">)</tspan></text>
</g>
</svg>
</body></html>
